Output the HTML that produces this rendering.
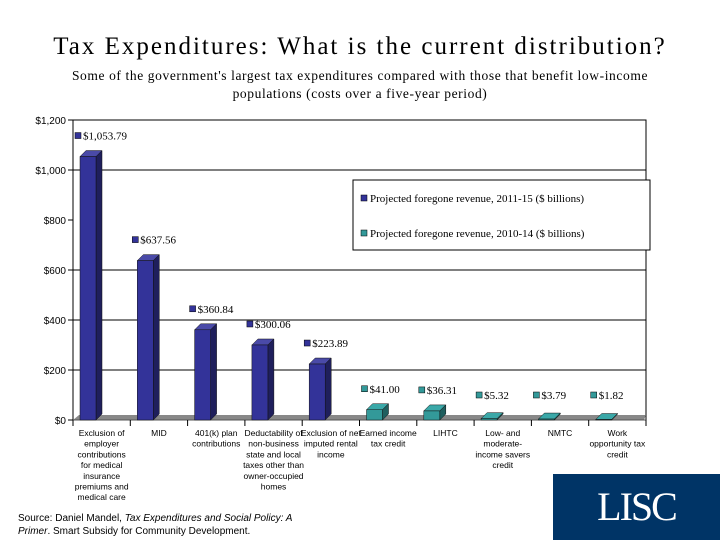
<!DOCTYPE html>
<html><head><meta charset="utf-8"><style>
body{margin:0;background:#fff;width:720px;height:540px;overflow:hidden;position:relative;font-family:"Liberation Sans",sans-serif}
.t{position:absolute;left:0;width:720px;text-align:center;font-family:"Liberation Serif",serif}
</style></head><body>
<div class="t" style="top:33px;font-size:25px;letter-spacing:2px">Tax Expenditures: What is the current distribution?</div>
<div class="t" style="top:67px;font-size:13.5px;line-height:18px;white-space:nowrap;letter-spacing:0.6px">Some of the government's largest tax expenditures compared with those that benefit low-income<br>populations (costs over a five-year period)</div>
<svg id="c" width="720" height="540" style="position:absolute;left:0;top:0"></svg>
<div style="position:absolute;left:18px;top:512px;font-size:10px;line-height:13px;width:300px">Source: Daniel Mandel, <i>Tax Expenditures and Social Policy: A Primer</i>. Smart Subsidy for Community Development.</div>
<div style="position:absolute;left:553px;top:474px;width:167px;height:66px;background:#003466;color:#fff;font-family:'Liberation Serif',serif;font-size:40px;text-align:center;line-height:66px;letter-spacing:-2px">LISC</div>
<script>
const categories=[["Exclusion of","employer","contributions","for medical","insurance","premiums and","medical care"],["MID"],["401(k) plan","contributions"],["Deductability of","non-business","state and local","taxes other than","owner-occupied","homes"],["Exclusion of net","imputed rental","income"],["Earned income","tax credit"],["LIHTC"],["Low- and","moderate-","income savers","credit"],["NMTC"],["Work","opportunity tax","credit"]];
const values=[1053.79,637.56,360.84,300.06,223.89,41.00,36.31,5.32,3.79,1.82];
const seriesIdx=[0,0,0,0,0,1,1,1,1,1];
const yTicks=[0,200,400,600,800,1000,1200];
const tickLabels=["$0","$200","$400","$600","$800","$1,000","$1,200"];
const svg=document.getElementById('c');const NS='http://www.w3.org/2000/svg';
function mk(t,a,p){const e=document.createElementNS(NS,t);for(const k in a)e.setAttribute(k,a[k]);(p||svg).appendChild(e);return e;}
const X0=73,X1=646,Y0=420,Y1=120;
const y=v=>Y0-(v/1200)*(Y0-Y1);
const slot=(X1-X0)/categories.length;
const x=i=>X0+7+i*slot;
const front=['#333399','#339999'],side=['#1f1f5c','#1f5f5f'],top_=['#4a4aa8','#3aa8a8'];
mk('rect',{x:X0,y:Y1,width:X1-X0,height:Y0-Y1,fill:'none',stroke:'#000','stroke-width':1});
yTicks.forEach((v,i)=>{
 if(v>0&&v<1200&&v!==800){const g=mk('line',{x1:X0,x2:X1,y1:y(v),y2:y(v),stroke:'#000','stroke-width':1});}
 mk('line',{x1:X0-5,x2:X0,y1:y(v),y2:y(v),stroke:'#000'});
 const t=mk('text',{x:X0-7,y:y(v)+4,'text-anchor':'end','font-size':10,'font-family':'Liberation Sans'});t.textContent=tickLabels[i];
 
});
mk('polygon',{points:`${X0},${Y0} ${X0+6},${Y0-5} ${X1},${Y0-5} ${X1-2},${Y0}`,fill:'#888'});
mk('line',{x1:X0,x2:X1,y1:Y0,y2:Y0,stroke:'#555'});
for(let i=0;i<=categories.length;i++){mk('line',{x1:X0+i*slot,x2:X0+i*slot,y1:Y0,y2:Y0+6,stroke:'#000'});}
values.forEach((v,i)=>{
 const s=seriesIdx[i],bx=x(i),w=16,d=6,ty=y(v);
 const g=mk('g',{});
 mk('polygon',{points:`${bx},${ty} ${bx+d},${ty-d} ${bx+w+d},${ty-d} ${bx+w},${ty}`,fill:top_[s],stroke:'#111','stroke-width':0.5},g);
 mk('polygon',{points:`${bx+w},${ty} ${bx+w+d},${ty-d} ${bx+w+d},${Y0-d} ${bx+w},${Y0}`,fill:side[s],stroke:'#111','stroke-width':0.5},g);
 mk('rect',{x:bx,y:ty,width:w,height:Y0-ty,fill:front[s],stroke:'#111','stroke-width':0.5},g);
 const ly=Math.min(ty-18,Y0-22);
 mk('rect',{x:bx-5,y:ly-6,width:6,height:6,fill:front[s],stroke:'#000','stroke-width':0.5});
 const t=mk('text',{x:bx+3,y:ly+1,'font-size':11,'font-family':'Liberation Serif'});t.textContent='$'+v.toLocaleString('en-US',{minimumFractionDigits:2});
 
 const lt=mk('text',{x:X0+(i+0.5)*slot,y:Y0+16,'text-anchor':'middle','font-size':8.5,'font-family':'Liberation Sans'});
 
 categories[i].forEach((l,j)=>{const ts=mk('tspan',{x:X0+(i+0.5)*slot,dy:j?10.7:0},lt);ts.textContent=l;});
});
const lg=mk('g',{});
mk('rect',{x:353,y:180,width:297,height:70,fill:'#fff',stroke:'#000'},lg);
['Projected foregone revenue, 2011-15 ($ billions)','Projected foregone revenue, 2010-14 ($ billions)'].forEach((s,i)=>{
 mk('rect',{x:361,y:195+i*35,width:6,height:6,fill:front[i],stroke:'#000','stroke-width':0.5},lg);
 const t=mk('text',{x:370,y:202+i*35,'font-size':11,'font-family':'Liberation Serif'},lg);t.textContent=s;
});
</script>
</body></html>
